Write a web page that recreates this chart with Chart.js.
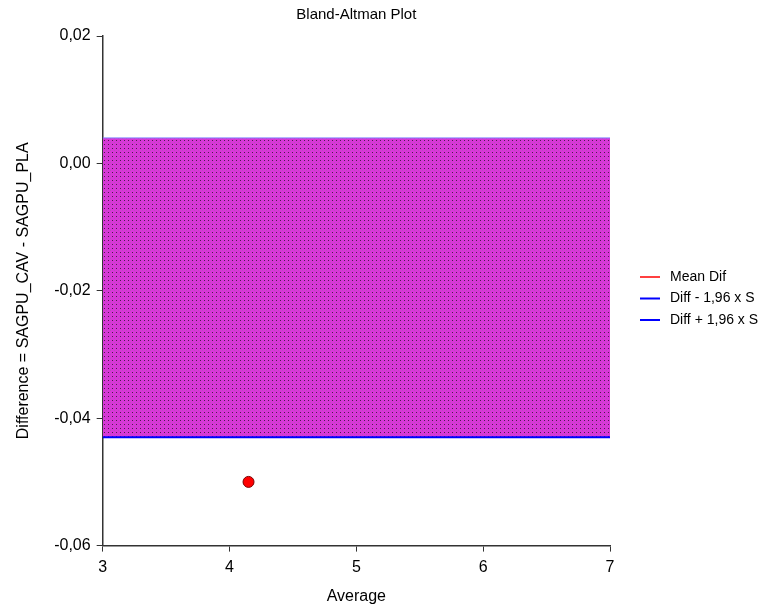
<!DOCTYPE html>
<html>
<head>
<meta charset="utf-8">
<script src="https://cdn.jsdelivr.net/npm/chart.js@4"></script>
<style>
  html, body { margin: 0; padding: 0; background: #fff; }
  #wrap { width: 763px; height: 612px; }
</style>
</head>
<body>
<div id="wrap"><canvas id="chartBA"></canvas></div>
<script>
// Bland-Altman data
const xRange = [3, 7];
const pointAvg = [4.15];
const pointDiff = [-0.05];
const meanDif = -0.0195;
const lowerLimit = -0.043;
const upperLimit = 0.004;
const legendLabels = ['Mean Dif', 'Diff - 1,96 x S', 'Diff + 1,96 x S'];

const FONT = 'Liberation Sans, Arial, sans-serif';

// magenta dotted fill used for the agreement band
function makePattern() {
    const c = document.createElement('canvas');
    c.width = 4; c.height = 4;
    const g = c.getContext('2d');
    g.fillStyle = '#d838d8';
    g.fillRect(0, 0, 4, 4);
    g.fillStyle = '#501850';
    g.fillRect(0, 0, 1, 1);
    g.fillStyle = '#b850b8';
    g.fillRect(2, 2, 1, 1);
    return g.createPattern(c, 'repeat');
}

function hline(y) {
    return xRange.map(x => ({ x: x, y: y }));
}

// legend drawn to the right of the plot, line + label per limit line
const sideLegend = {
    id: 'sideLegend',
    afterDraw(chart) {
        const ctx = chart.ctx;
        const x0 = chart.chartArea.right + 30;
        const y0 = 277;
        ctx.save();
        ctx.font = '14px ' + FONT;
        ctx.textBaseline = 'middle';
        legendLabels.forEach((txt, i) => {
            const ds = chart.data.datasets[i];
            const y = y0 + i * 21.5;
            ctx.strokeStyle = i === 0 ? ds.borderColor : '#0000ff';
            ctx.lineWidth = i === 0 ? 1.5 : 2;
            ctx.beginPath();
            ctx.moveTo(x0, y);
            ctx.lineTo(x0 + 20, y);
            ctx.stroke();
            ctx.fillStyle = '#000';
            ctx.fillText(ds.label, x0 + 30, y);
        });
        ctx.restore();
    }
};

document.addEventListener('DOMContentLoaded', () => {
    const ctx = document.getElementById('chartBA').getContext('2d');
    new Chart(ctx, {
        type: 'scatter',
        data: {
            datasets: [{
                label: legendLabels[0],
                data: hline(meanDif),
                showLine: true,
                borderColor: '#ff0000',
                borderWidth: 1,
                pointRadius: 0,
                order: 5
            }, {
                label: legendLabels[1],
                data: hline(lowerLimit),
                showLine: true,
                borderColor: '#0000ff',
                borderWidth: 2,
                pointRadius: 0,
                order: 1
            }, {
                label: legendLabels[2],
                data: hline(upperLimit),
                showLine: true,
                borderColor: '#8080ff',
                borderWidth: 1,
                pointRadius: 0,
                fill: { target: 1 },
                backgroundColor: makePattern(),
                order: 2
            }, {
                label: 'points',
                data: pointAvg.map((x, i) => ({ x: x, y: pointDiff[i] })),
                backgroundColor: '#ff0000',
                borderColor: '#7a0000',
                borderWidth: 1,
                pointRadius: 5.5,
                order: 0
            }]
        },
        options: {
            responsive: true,
            maintainAspectRatio: false,
            animation: false,
            layout: { padding: { left: 10, right: 153, top: 2, bottom: 4 } },
            scales: {
                x: {
                    type: 'linear',
                    min: 3, max: 7,
                    border: { color: '#333', width: 1.5 },
                    grid: { drawOnChartArea: false, color: '#333', tickLength: 6 },
                    ticks: { stepSize: 1, color: '#000', font: { family: FONT, size: 16 }, padding: 6 },
                    title: { display: true, text: 'Average', color: '#000', font: { family: FONT, size: 16 }, padding: { top: 4, bottom: 2 } }
                },
                y: {
                    min: -0.06, max: 0.02,
                    border: { color: '#333', width: 1.5 },
                    grid: { drawOnChartArea: false, color: '#333', tickLength: 6 },
                    ticks: {
                        stepSize: 0.02,
                        color: '#000',
                        font: { family: FONT, size: 16 },
                        padding: 6,
                        callback: v => v.toFixed(2).replace('.', ',')
                    },
                    title: { display: true, text: 'Difference = SAGPU_CAV - SAGPU_PLA', color: '#000', font: { family: FONT, size: 16 }, padding: { top: 4, bottom: 15 } }
                }
            },
            plugins: {
                title: {
                    display: true,
                    fullSize: false,
                    text: 'Bland-Altman Plot',
                    color: '#000',
                    font: { family: FONT, size: 15, weight: 'normal' },
                    padding: { top: 4, bottom: 12 }
                },
                legend: { display: false },
                tooltip: { enabled: false }
            }
        },
        plugins: [sideLegend]
    });
});
</script>
</body>
</html>
